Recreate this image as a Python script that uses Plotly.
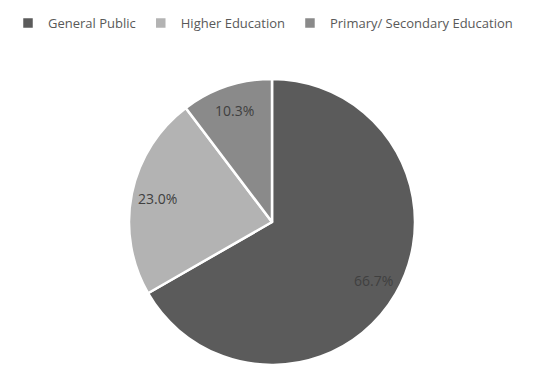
import numpy as np
import plotly.graph_objects as go

labels = ["General Public", "Higher Education", "Primary/ Secondary Education"]
values = [66.7, 23.0, 10.3]
colors = ["#5b5b5b", "#b3b3b3", "#8a8a8a"]

W, H = 550, 378
# pie placement in pixels (centre and radius)
cx, cy, R = 264, 214, 143

fig = go.Figure(go.Pie(
    labels=labels,
    values=values,
    sort=False,
    direction="clockwise",
    rotation=0,
    domain=dict(x=[(cx - R) / W, (cx + R) / W], y=[1 - (cy + R) / H, 1 - (cy - R) / H]),
    marker=dict(colors=colors, line=dict(color="white", width=2.5)),
    textinfo="none",
    hoverinfo="label+percent",
))

# data labels at ~0.8 of the radius, like Excel does
total = sum(values)
start = 0.0
for v in values:
    mid = np.radians((start + v / 2) / total * 360)
    start += v
    px_ = cx + 0.82 * R * np.sin(mid)
    py_ = cy - 0.82 * R * np.cos(mid)
    fig.add_annotation(x=px_ / W, y=1 - py_ / H, xref="paper", yref="paper",
                       xanchor="center", yanchor="middle",
                       text=f"{v:.1f}%", showarrow=False,
                       font=dict(size=14, color="#404040", family="Open Sans"))

fig.update_layout(
    width=W, height=H,
    paper_bgcolor="white",
    margin=dict(l=0, r=0, t=0, b=0),
    font=dict(family="Open Sans", color="#595959", size=14),
    legend=dict(orientation="h", x=0, xanchor="left", y=1, yanchor="top",
                itemwidth=30, font=dict(size=13, color="#595959")),
)

fig.write_html("out.html")
